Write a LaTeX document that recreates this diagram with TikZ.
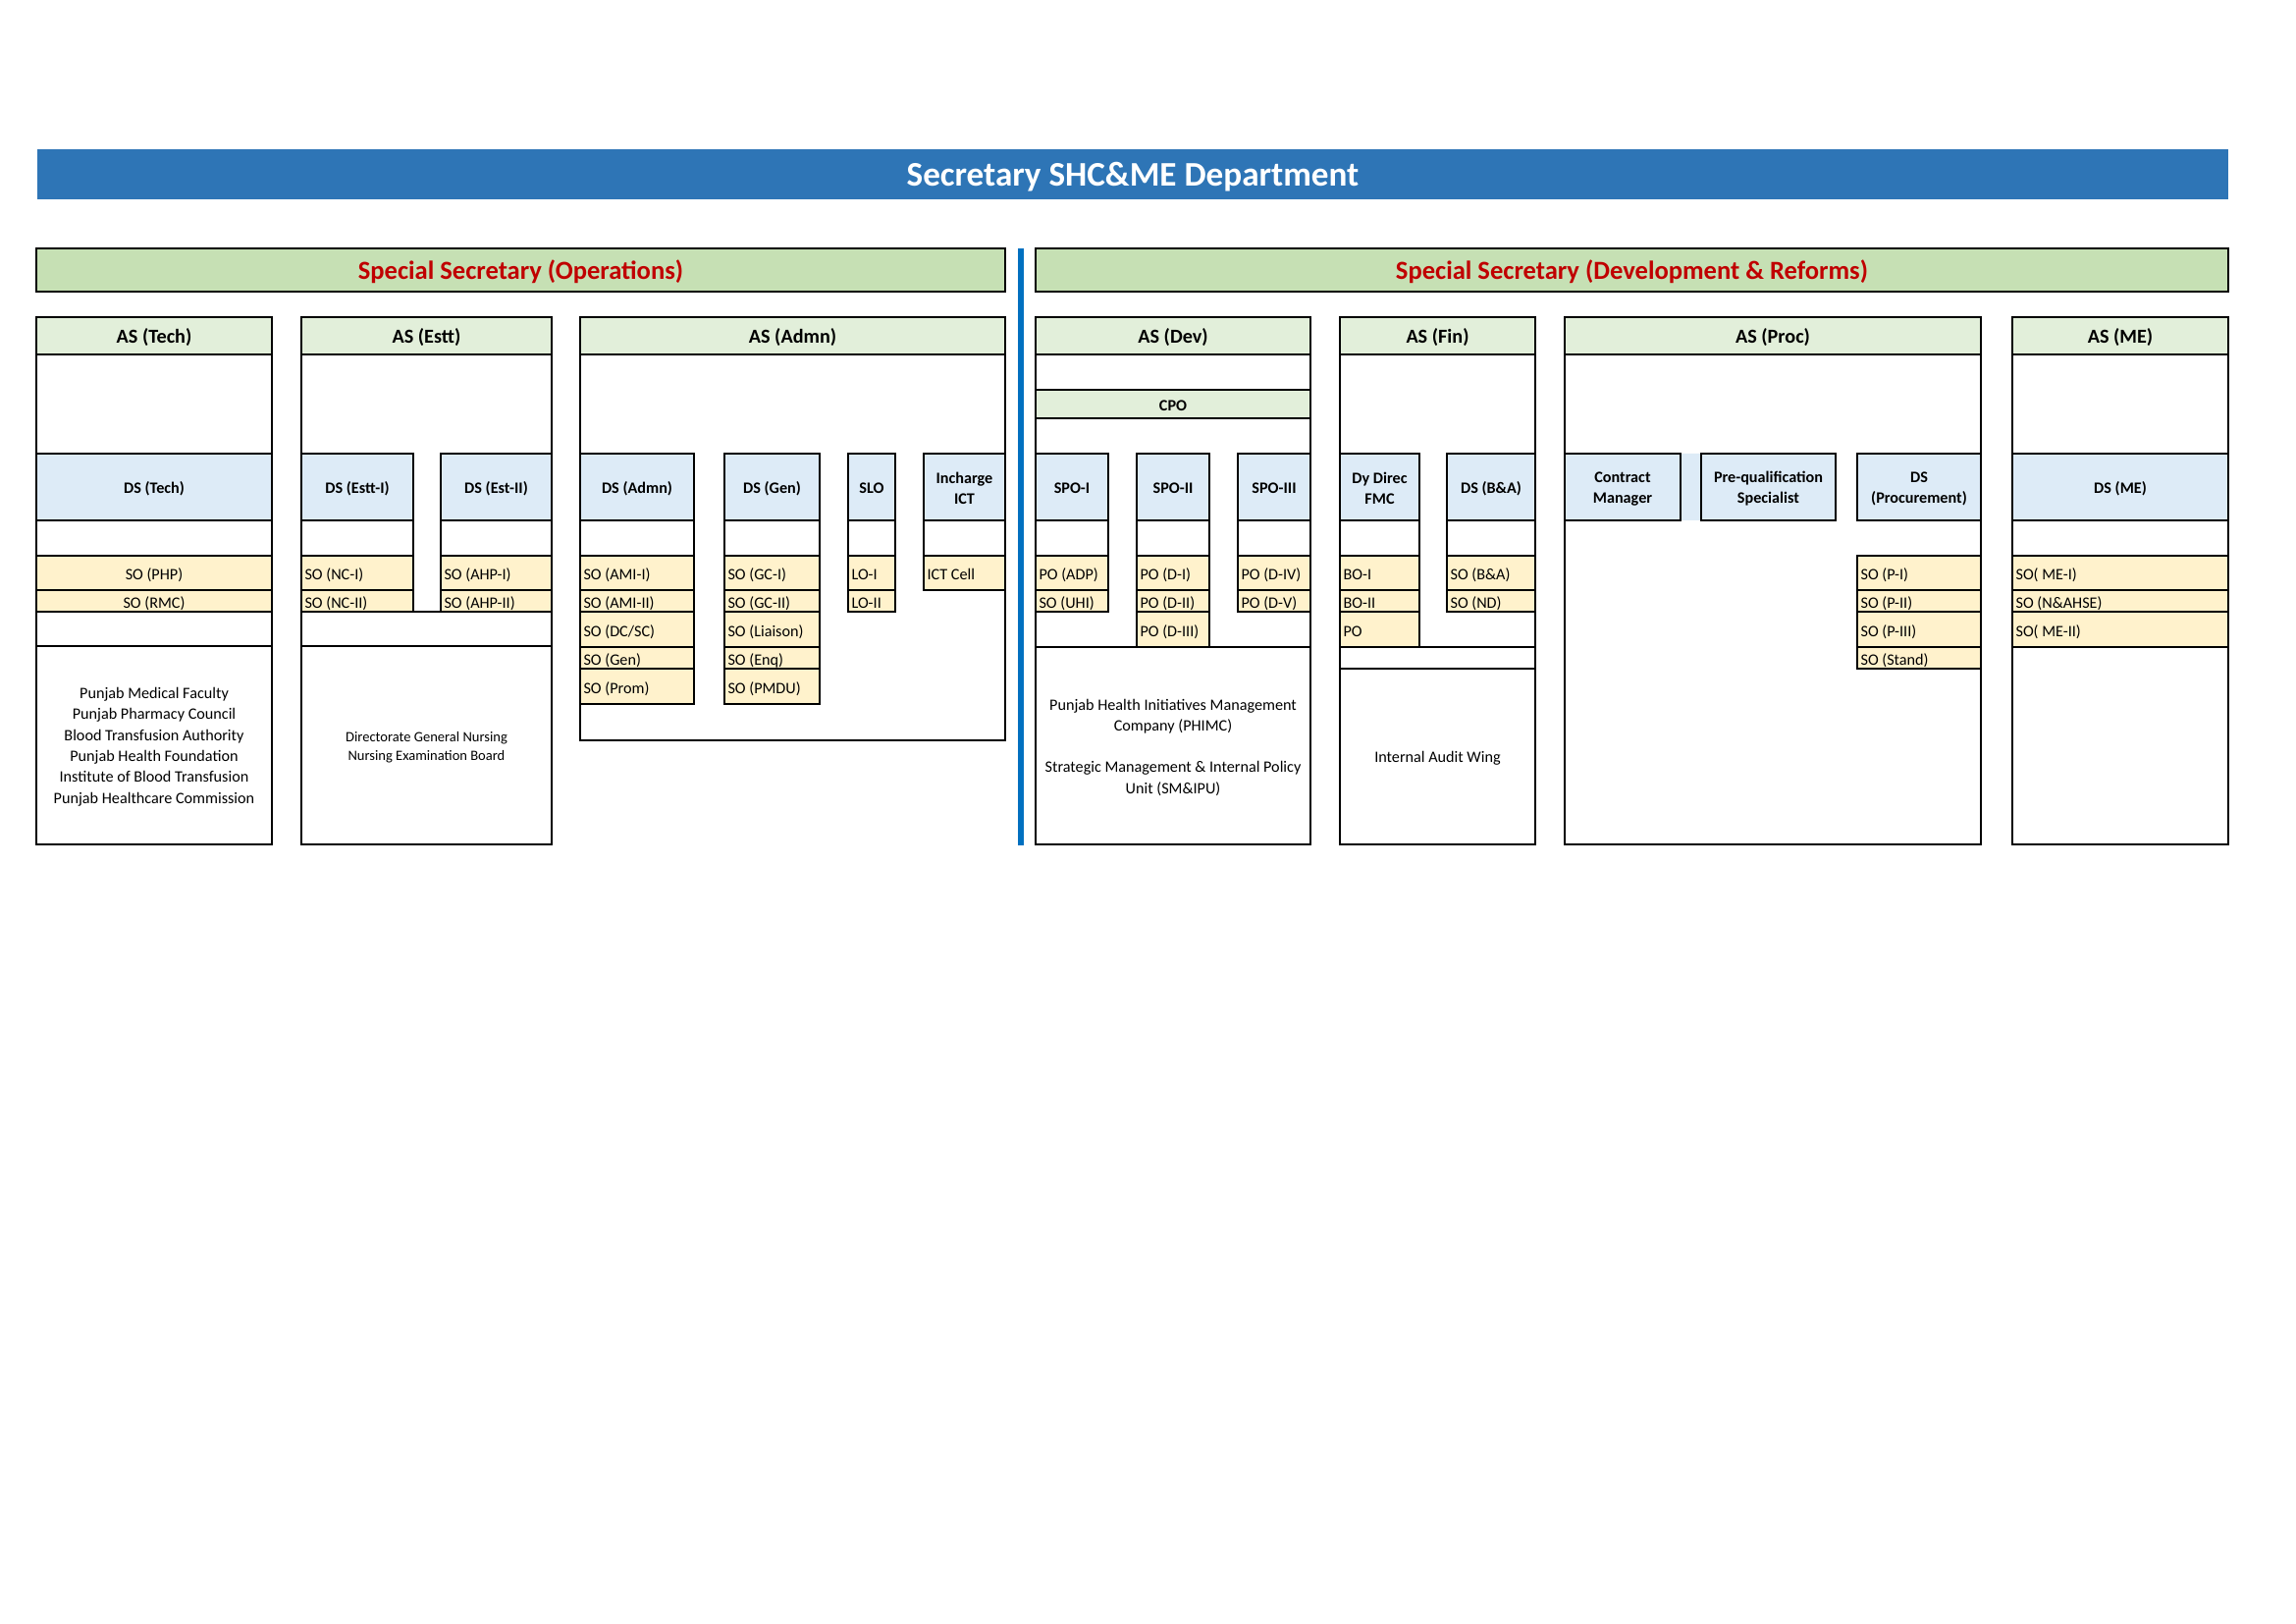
\documentclass[tikz,border=0pt]{standalone}
\usepackage{fontspec}
\setmainfont{Carlito}
\usepackage{tikz}

\definecolor{titleblue}{RGB}{46,117,182}
\definecolor{bandgreen}{RGB}{198,224,180}
\definecolor{hdrgreen}{RGB}{226,239,218}
\definecolor{dsblue}{RGB}{221,235,247}
\definecolor{soyellow}{RGB}{255,242,204}
\definecolor{ssred}{RGB}{192,0,0}
\definecolor{splitblue}{RGB}{0,112,192}

\begin{document}
\begin{tikzpicture}[x=0.12698mm, y=-0.12698mm,
    boxline/.style={line width=0.85pt},
    sepline/.style={line width=0.4pt},
    titletext/.style={font=\fontsize{12.7}{15}\selectfont\bfseries, text=white, yshift=-0.8pt},
    bandtext/.style={font=\fontsize{9.6}{11.5}\selectfont\bfseries, text=ssred, yshift=-0.7pt},
    astext/.style={font=\fontsize{7.3}{9}\selectfont\bfseries, yshift=-0.7pt},
    dstext/.style={font=\fontsize{5.85}{7.6}\selectfont\bfseries, align=center, yshift=-0.6pt},
    sotext/.style={font=\fontsize{5.85}{7.6}\selectfont, anchor=west, inner sep=0pt, text height=1.6ex, text depth=0.4ex, yshift=0.3pt},
    sotextc/.style={sotext, anchor=center},
    bodytext/.style={font=\fontsize{5.85}{7.7}\selectfont, align=center, yshift=-0.6pt}]

    \useasboundingbox (0,0) rectangle (2339,1654);

    % Secretary
    \fill[titleblue] (38,152) rectangle (2270,203);
    \node[titletext] (secy) at (1154,177.5) {Secretary SHC\&ME Department};

    % Special Secretaries
    \draw[boxline, fill=bandgreen] (37,253) rectangle (1024,297);
    \node[bandtext] (ssops) at (530.5,275) {Special Secretary (Operations)};
    \draw[boxline, fill=bandgreen] (1055,253) rectangle (2270,297);
    \node[bandtext] (ssdev) at (1662.5,275) {Special Secretary (Development \& Reforms)};
    \draw[splitblue, line width=2.4pt] (1040,253) -- (1040,861);

    % AS (Tech)
    \fill[hdrgreen] (37,323) rectangle (277,361);
    \fill[dsblue] (37,462) rectangle (277,530);
    \fill[soyellow] (37,566) rectangle (277,623);
    \draw[sepline] (37,566) -- (277,566) (37,601) -- (277,601);
    \draw[boxline] (37,361) -- (277,361) (37,462) -- (277,462) (37,530) -- (277,530)
        (37,623) -- (277,623) (37,658) -- (277,658);
    \draw[boxline] (37,323) rectangle (277,860);
    \node[astext] (astech) at (157,342) {AS (Tech)};
    \node[dstext] (dstech) at (157,496) {DS (Tech)};
    \node[sotextc] (sophp) at (157,583.5) {SO (PHP)};
    \node[sotextc] (sormc) at (157,612) {SO (RMC)};
    \node[bodytext] (techbodies) at (157,759) {Punjab Medical Faculty\\Punjab Pharmacy Council\\Blood Transfusion Authority\\Punjab Health Foundation\\Institute of Blood Transfusion\\Punjab Healthcare Commission};

    % AS (Estt)
    \fill[hdrgreen] (307,323) rectangle (562,361);
    \fill[dsblue] (307,462) rectangle (421,530) (449,462) rectangle (562,530);
    \fill[soyellow] (307,566) rectangle (421,623) (449,566) rectangle (562,623);
    \draw[sepline] (307,566) -- (421,566) (307,601) -- (421,601) (449,566) -- (562,566) (449,601) -- (562,601);
    \draw[boxline] (307,462) rectangle (421,623) (307,530) -- (421,530)
        (449,462) rectangle (562,623) (449,530) -- (562,530);
    \draw[boxline] (307,361) -- (562,361) (307,623) -- (562,623) (307,658) -- (562,658);
    \draw[boxline] (307,323) rectangle (562,860);
    \node[astext] (asestt) at (434.5,342) {AS (Estt)};
    \node[dstext] (dsestti) at (364,496) {DS (Estt-I)};
    \node[dstext] (dsestii) at (505.5,496) {DS (Est-II)};
    \node[sotext] (sonci) at (310,583.5) {SO (NC-I)};
    \node[sotext] (soncii) at (310,612) {SO (NC-II)};
    \node[sotext] (soahpi) at (452,583.5) {SO (AHP-I)};
    \node[sotext] (soahpii) at (452,612) {SO (AHP-II)};
    \node[bodytext, font=\fontsize{5.25}{6.85}\selectfont] (esttbodies) at (434.5,759.5) {Directorate General Nursing\\Nursing Examination Board};

    % AS (Admn)
    \fill[hdrgreen] (591,323) rectangle (1024,361);
    \fill[dsblue] (591,462) rectangle (707,530) (738,462) rectangle (835,530)
        (864,462) rectangle (912,530) (941,462) rectangle (1024,530);
    \fill[soyellow] (591,566) rectangle (707,717) (738,566) rectangle (835,717)
        (864,566) rectangle (912,623) (941,566) rectangle (1024,601);
    \foreach \yy in {566,601,623,659,681}
        \draw[sepline] (591,\yy) -- (707,\yy) (738,\yy) -- (835,\yy);
    \draw[sepline] (864,566) -- (912,566) (864,601) -- (912,601) (941,566) -- (1024,566);
    \draw[boxline] (591,462) rectangle (707,717) (591,530) -- (707,530)
        (738,462) rectangle (835,717) (738,530) -- (835,530)
        (864,462) rectangle (912,623) (864,530) -- (912,530)
        (941,462) rectangle (1024,601) (941,530) -- (1024,530);
    \draw[boxline] (591,361) -- (1024,361);
    \draw[boxline] (591,323) rectangle (1024,754);
    \node[astext] (asadmn) at (807.5,342) {AS (Admn)};
    \node[dstext] (dsadmn) at (649,496) {DS (Admn)};
    \node[dstext] (dsgen) at (786.5,496) {DS (Gen)};
    \node[dstext] (slo) at (888,496) {SLO};
    \node[dstext] (ictin) at (982.5,496) {Incharge\\ICT};
    \node[sotext] (soamii) at (594,583.5) {SO (AMI-I)};
    \node[sotext] (soamiii) at (594,612) {SO (AMI-II)};
    \node[sotext] (sodcsc) at (594,641) {SO (DC/SC)};
    \node[sotext] (sogen) at (594,670) {SO (Gen)};
    \node[sotext] (soprom) at (594,699) {SO (Prom)};
    \node[sotext] (sogci) at (741,583.5) {SO (GC-I)};
    \node[sotext] (sogcii) at (741,612) {SO (GC-II)};
    \node[sotext] (soliaison) at (741,641) {SO (Liaison)};
    \node[sotext] (soenq) at (741,670) {SO (Enq)};
    \node[sotext] (sopmdu) at (741,699) {SO (PMDU)};
    \node[sotext] (loi) at (867,583.5) {LO-I};
    \node[sotext] (loii) at (867,612) {LO-II};
    \node[sotext] (ictcell) at (944,583.5) {ICT Cell};

    % AS (Dev)
    \fill[hdrgreen] (1055,323) rectangle (1335,361) (1055,397) rectangle (1335,426);
    \fill[dsblue] (1055,462) rectangle (1129,530) (1158,462) rectangle (1232,530) (1261,462) rectangle (1335,530);
    \fill[soyellow] (1055,566) rectangle (1129,623) (1158,566) rectangle (1232,659) (1261,566) rectangle (1335,623);
    \draw[sepline] (1055,426) -- (1335,426) (1158,623) -- (1232,623);
    \foreach \yy in {566,601}
        \draw[sepline] (1055,\yy) -- (1129,\yy) (1158,\yy) -- (1232,\yy) (1261,\yy) -- (1335,\yy);
    \draw[boxline] (1055,462) rectangle (1129,623) (1055,530) -- (1129,530)
        (1158,462) rectangle (1232,659) (1158,530) -- (1232,530)
        (1261,462) rectangle (1335,623) (1261,530) -- (1335,530);
    \draw[boxline] (1055,361) -- (1335,361) (1055,397) -- (1335,397) (1055,659) -- (1335,659);
    \draw[boxline] (1055,323) rectangle (1335,860);
    \node[astext] (asdev) at (1195,342) {AS (Dev)};
    \node[dstext] (cpo) at (1195,411.5) {CPO};
    \node[dstext] (spoi) at (1092,496) {SPO-I};
    \node[dstext] (spoii) at (1195,496) {SPO-II};
    \node[dstext] (spoiii) at (1298,496) {SPO-III};
    \node[sotext] (poadp) at (1058,583.5) {PO (ADP)};
    \node[sotext] (souhi) at (1058,612) {SO (UHI)};
    \node[sotext] (podi) at (1161,583.5) {PO (D-I)};
    \node[sotext] (podii) at (1161,612) {PO (D-II)};
    \node[sotext] (podiii) at (1161,641) {PO (D-III)};
    \node[sotext] (podiv) at (1264,583.5) {PO (D-IV)};
    \node[sotext] (podv) at (1264,612) {PO (D-V)};
    \node[bodytext] (devbodies) at (1195,759.5) {Punjab Health Initiatives Management\\Company (PHIMC)\\[7.7pt]Strategic Management \& Internal Policy\\Unit (SM\&IPU)};

    % AS (Fin)
    \fill[hdrgreen] (1365,323) rectangle (1564,361);
    \fill[dsblue] (1365,462) rectangle (1446,530) (1474,462) rectangle (1564,530);
    \fill[soyellow] (1365,566) rectangle (1446,659) (1474,566) rectangle (1564,623);
    \foreach \yy in {566,601}
        \draw[sepline] (1365,\yy) -- (1446,\yy) (1474,\yy) -- (1564,\yy);
    \draw[sepline] (1365,623) -- (1446,623);
    \draw[boxline] (1365,462) rectangle (1446,659) (1365,530) -- (1446,530)
        (1474,462) rectangle (1564,623) (1474,530) -- (1564,530);
    \draw[boxline] (1365,361) -- (1564,361) (1365,659) -- (1564,659) (1365,681) -- (1564,681);
    \draw[boxline] (1365,323) rectangle (1564,860);
    \node[astext] (asfin) at (1464.5,342) {AS (Fin)};
    \node[dstext] (dydirec) at (1405.5,496) {Dy Direc\\FMC};
    \node[dstext] (dsba) at (1519,496) {DS (B\&A)};
    \node[sotext] (boi) at (1368,583.5) {BO-I};
    \node[sotext] (boii) at (1368,612) {BO-II};
    \node[sotext] (po) at (1368,641) {PO};
    \node[sotext] (soba) at (1477,583.5) {SO (B\&A)};
    \node[sotext] (sond) at (1477,612) {SO (ND)};
    \node[bodytext] (audit) at (1464.5,770.5) {Internal Audit Wing};

    % AS (Proc)
    \fill[hdrgreen] (1594,323) rectangle (2018,361);
    \fill[dsblue] (1594,462) rectangle (1870,530) (1892,462) rectangle (2018,530);
    \fill[soyellow] (1892,566) rectangle (2018,681);
    \foreach \yy in {601,623,659}
        \draw[sepline] (1892,\yy) -- (2018,\yy);
    \draw[boxline] (1594,462) rectangle (1712,530) (1733,462) rectangle (1870,530)
        (1892,462) rectangle (2018,530) (1892,566) rectangle (2018,681);
    \draw[boxline] (1594,361) -- (2018,361);
    \draw[boxline] (1594,323) rectangle (2018,860);
    \node[astext] (asproc) at (1806,342) {AS (Proc)};
    \node[dstext] (contract) at (1653,496) {Contract\\Manager};
    \node[dstext] (prequal) at (1801.5,496) {Pre-qualification\\Specialist};
    \node[dstext] (dsproc) at (1955,496) {DS\\(Procurement)};
    \node[sotext] (sopi) at (1895,583.5) {SO (P-I)};
    \node[sotext] (sopii) at (1895,612) {SO (P-II)};
    \node[sotext] (sopiii) at (1895,641) {SO (P-III)};
    \node[sotext] (sostand) at (1895,670) {SO (Stand)};

    % AS (ME)
    \fill[hdrgreen] (2050,323) rectangle (2270,361);
    \fill[dsblue] (2050,462) rectangle (2270,530);
    \fill[soyellow] (2050,566) rectangle (2270,659);
    \draw[sepline] (2050,601) -- (2270,601) (2050,623) -- (2270,623);
    \draw[boxline] (2050,361) -- (2270,361) (2050,462) -- (2270,462) (2050,530) -- (2270,530)
        (2050,566) -- (2270,566) (2050,659) -- (2270,659);
    \draw[boxline] (2050,323) rectangle (2270,860);
    \node[astext] (asme) at (2160,342) {AS (ME)};
    \node[dstext] (dsme) at (2160,496) {DS (ME)};
    \node[sotext] (somei) at (2053,583.5) {SO( ME-I)};
    \node[sotext] (sonahse) at (2053,612) {SO (N\&AHSE)};
    \node[sotext] (someii) at (2053,641) {SO( ME-II)};
\end{tikzpicture}
\end{document}
